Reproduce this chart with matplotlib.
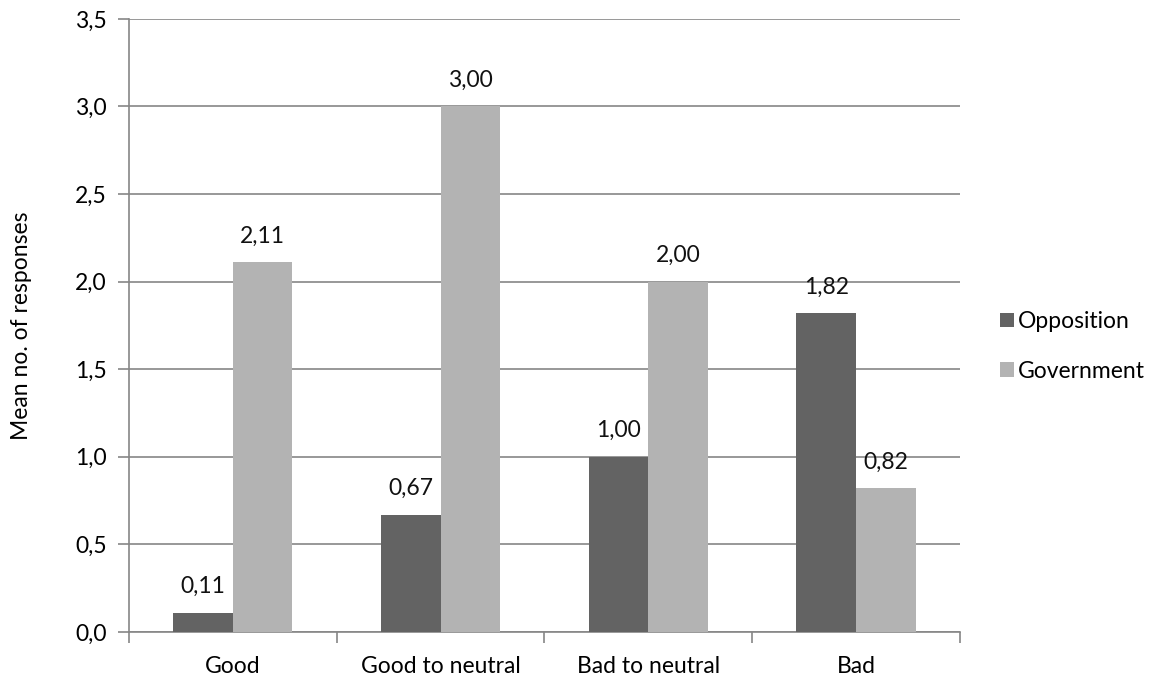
import matplotlib
matplotlib.use("Agg")
import matplotlib.pyplot as plt
import numpy as np

categories = ["Good", "Good to neutral", "Bad to neutral", "Bad"]
opposition = [0.11, 0.67, 1.00, 1.82]
government = [2.11, 3.00, 2.00, 0.82]
y_ticks = [0.0, 0.5, 1.0, 1.5, 2.0, 2.5, 3.0, 3.5]

plt.rcParams['font.family'] = ['Lato', 'DejaVu Sans']

fig = plt.figure(figsize=(11.51, 6.75), dpi=100)
ax = fig.add_axes([0.112, 0.0637, 0.722, 0.9083])

axis_grey = "#868686"
fs = 16.5
x = np.arange(len(categories))
w = 0.287

b1 = ax.bar(x - w / 2, opposition, w, color="#636363", label="Opposition", zorder=3)
b2 = ax.bar(x + w / 2, government, w, color="#b3b3b3", label="Government", zorder=3)

def fmt(v):
    return f"{v:.2f}".replace(".", ",")

for bars, vals in ((b1, opposition), (b2, government)):
    for rect, v in zip(bars, vals):
        ax.text(rect.get_x() + rect.get_width() / 2, v + 0.09, fmt(v),
                ha="center", va="bottom", fontsize=fs, color="#111111")

ax.set_xlim(-0.5, len(categories) - 0.5)
ax.set_ylim(0, 3.5)
ax.set_yticks(y_ticks)
ax.set_yticklabels([f"{t:.1f}".replace(".", ",") for t in y_ticks], fontsize=fs)
ax.yaxis.grid(True, color=axis_grey, linewidth=1.2, zorder=0)

# category labels centred, ticks on the boundaries
ax.set_xticks(x)
ax.set_xticklabels(categories, fontsize=fs)
ax.tick_params(axis="x", length=0, pad=17)
ax.set_xticks(np.arange(-0.5, len(categories)), minor=True)
ax.tick_params(axis="x", which="minor", length=8, color=axis_grey, width=1.2)
ax.tick_params(axis="y", length=8, color=axis_grey, width=1.2, pad=8)

for side in ("top", "right"):
    ax.spines[side].set_visible(False)
for side in ("left", "bottom"):
    ax.spines[side].set_color(axis_grey)
    ax.spines[side].set_linewidth(1.2)

ax.set_ylabel("Mean no. of responses", fontsize=fs, labelpad=31)

ax.legend(loc="center left", bbox_to_anchor=(1.048, 0.466), frameon=False,
          fontsize=fs, handlelength=0.6, handleheight=0.6, handletextpad=0.2,
          labelspacing=1.25, borderpad=0, borderaxespad=0)

fig.savefig("out.png", dpi=100)
